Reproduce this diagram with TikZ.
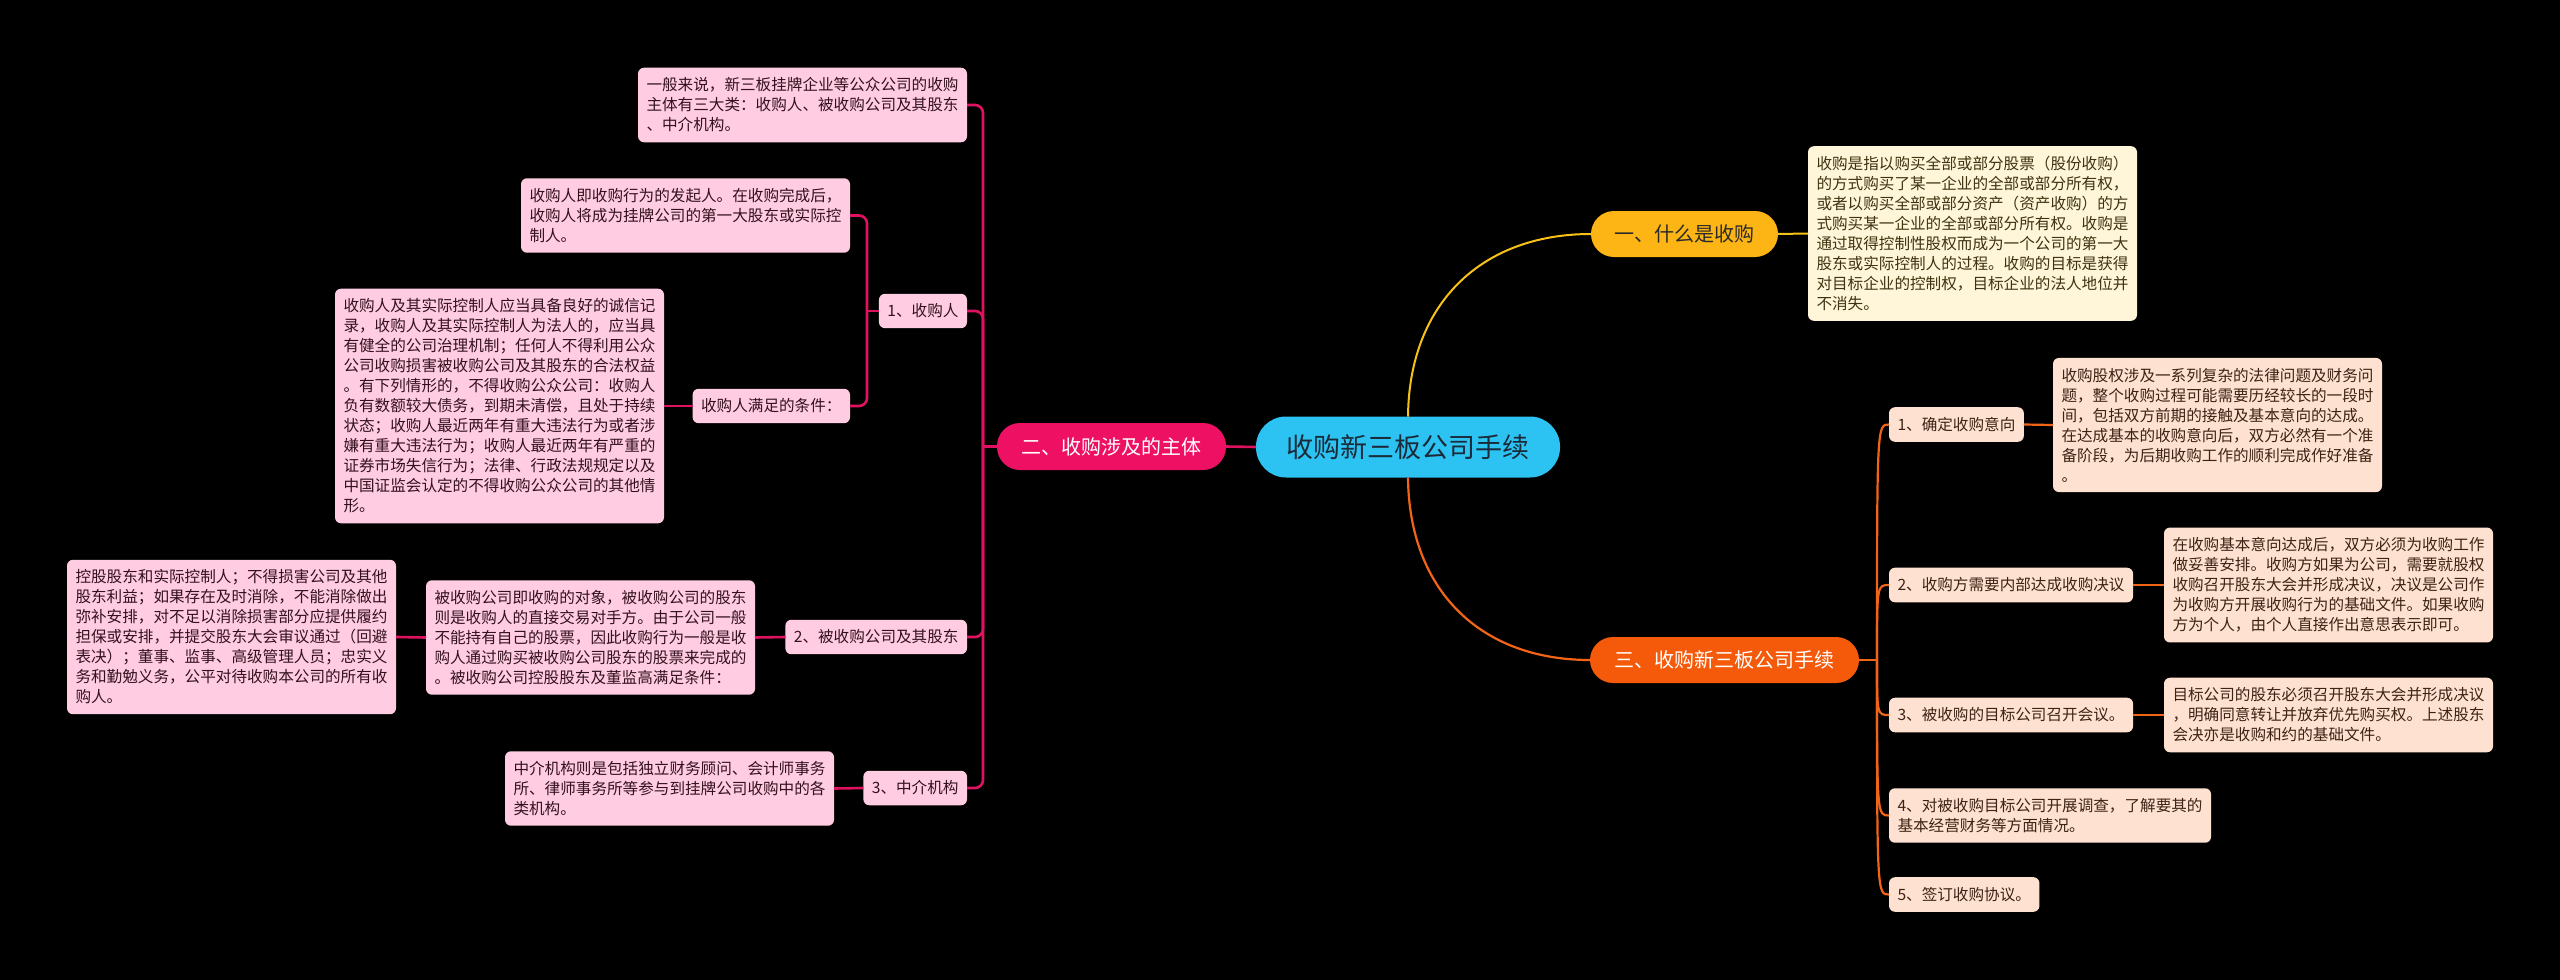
\documentclass[tikz,border=0pt]{standalone}
\usepackage{fontspec}
\setmainfont{Noto Sans CJK SC}
\definecolor{cyanC}{HTML}{2CC3F2}
\definecolor{cenTxt}{HTML}{1B2A38}
\definecolor{yelC}{HTML}{FDB515}
\definecolor{yelL}{HTML}{F6C21A}
\definecolor{yelBox}{HTML}{FFF5D8}
\definecolor{yelTxt}{HTML}{3E3210}
\definecolor{darkTxt}{HTML}{2A2A2A}
\definecolor{pinkC}{HTML}{EE1063}
\definecolor{pinkL}{HTML}{E0125F}
\definecolor{pinkBox}{HTML}{FFCCE1}
\definecolor{pinkTxt}{HTML}{33111E}
\definecolor{oraC}{HTML}{F55A0B}
\definecolor{oraL}{HTML}{F26418}
\definecolor{oraBox}{HTML}{FFE1D1}
\definecolor{oraTxt}{HTML}{3B2415}
\begin{document}
\begin{tikzpicture}[x=1pt,y=-1pt,
  every node/.style={inner sep=0pt, outer sep=0pt},
  pill/.style={font=\fontsize{20}{24}\selectfont, rounded corners=23pt},
  box/.style={font=\fontsize{15.6}{20}\selectfont, rounded corners=6pt, align=left, inner xsep=8.5pt, inner ysep=10pt},
  pbox/.style={box, fill=pinkBox, text=pinkTxt},
  obox/.style={box, fill=oraBox, text=oraTxt},
  ybox/.style={box, fill=yelBox, text=yelTxt},
  pline/.style={draw=pinkL, line width=2.6pt},
  oline/.style={draw=oraL, line width=2.2pt},
  yline/.style={draw=yelL, line width=2pt}]
\fill[black] (0,0) rectangle (2560,980);
\useasboundingbox (0,0) rectangle (2560,980);

% central and main branches
\node[fill=cyanC, text=cenTxt, font=\fontsize{27}{30}\selectfont, minimum width=304pt, minimum height=61pt, rounded corners=30pt] (c) at (1408,447) {收购新三板公司手续};
\node[pill, fill=yelC, text=darkTxt, minimum width=187pt, minimum height=46pt] (n1) at (1684.5,234) {一、什么是收购};
\node[pill, fill=pinkC, text=white, minimum width=229pt, minimum height=47pt] (n2) at (1111.5,446.5) {二、收购涉及的主体};
\node[pill, fill=oraC, text=white, minimum width=269pt, minimum height=46pt] (n3) at (1724.5,660) {三、收购新三板公司手续};

% yellow detail
\node[ybox, anchor=west] (y1) at (1808,233.5) {收购是指以购买全部或部分股票（股份收购）\\的方式购买了某一企业的全部或部分所有权，\\或者以购买全部或部分资产（资产收购）的方\\式购买某一企业的全部或部分所有权。收购是\\通过取得控制性股权而成为一个公司的第一大\\股东或实际控制人的过程。收购的目标是获得\\对目标企业的控制权，目标企业的法人地位并\\不消失。};

% orange branch
\node[obox, anchor=west] (o1) at (1889,424.5) {1、确定收购意向};
\node[obox, anchor=west] (o2) at (1889,585) {2、收购方需要内部达成收购决议};
\node[obox, anchor=west] (o3) at (1889,715) {3、被收购的目标公司召开会议。};
\node[obox, anchor=west] (o4) at (1889,815.5) {4、对被收购目标公司开展调查，了解要其的\\基本经营财务等方面情况。};
\node[obox, anchor=west] (o5) at (1889,894.5) {5、签订收购协议。};
\node[obox, anchor=west] (d1) at (2053,425) {收购股权涉及一系列复杂的法律问题及财务问\\题，整个收购过程可能需要历经较长的一段时\\间，包括双方前期的接触及基本意向的达成。\\在达成基本的收购意向后，双方必然有一个准\\备阶段，为后期收购工作的顺利完成作好准备\\。};
\node[obox, anchor=west] (d2) at (2164,585) {在收购基本意向达成后，双方必须为收购工作\\做妥善安排。收购方如果为公司，需要就股权\\收购召开股东大会并形成决议，决议是公司作\\为收购方开展收购行为的基础文件。如果收购\\方为个人，由个人直接作出意思表示即可。};
\node[obox, anchor=west] (d3) at (2164,715) {目标公司的股东必须召开股东大会并形成决议\\，明确同意转让并放弃优先购买权。上述股东\\会决亦是收购和约的基础文件。};

% pink branch
\node[pbox, anchor=east] (p0) at (967,105) {一般来说，新三板挂牌企业等公众公司的收购\\主体有三大类：收购人、被收购公司及其股东\\、中介机构。};
\node[pbox, anchor=east] (p1) at (967,311) {1、收购人};
\node[pbox, anchor=east] (p1a) at (850,215.5) {收购人即收购行为的发起人。在收购完成后，\\收购人将成为挂牌公司的第一大股东或实际控\\制人。};
\node[pbox, anchor=east] (p1b) at (850,406) {收购人满足的条件：};
\node[pbox, anchor=east] (p1c) at (664,406) {收购人及其实际控制人应当具备良好的诚信记\\录，收购人及其实际控制人为法人的，应当具\\有健全的公司治理机制；任何人不得利用公众\\公司收购损害被收购公司及其股东的合法权益\\。有下列情形的，不得收购公众公司：收购人\\负有数额较大债务，到期未清偿，且处于持续\\状态；收购人最近两年有重大违法行为或者涉\\嫌有重大违法行为；收购人最近两年有严重的\\证券市场失信行为；法律、行政法规规定以及\\中国证监会认定的不得收购公众公司的其他情\\形。};
\node[pbox, anchor=east] (p2) at (967,637) {2、被收购公司及其股东};
\node[pbox, anchor=east] (p2a) at (755,637.5) {被收购公司即收购的对象，被收购公司的股东\\则是收购人的直接交易对手方。由于公司一般\\不能持有自己的股票，因此收购行为一般是收\\购人通过购买被收购公司股东的股票来完成的\\。被收购公司控股股东及董监高满足条件：};
\node[pbox, anchor=east] (p2b) at (396,637) {控股股东和实际控制人；不得损害公司及其他\\股东利益；如果存在及时消除，不能消除做出\\弥补安排，对不足以消除损害部分应提供履约\\担保或安排，并提交股东大会审议通过（回避\\表决）；董事、监事、高级管理人员；忠实义\\务和勤勉义务，公平对待收购本公司的所有收\\购人。};
\node[pbox, anchor=east] (p3) at (967,788) {3、中介机构};
\node[pbox, anchor=east] (p3a) at (834,788.5) {中介机构则是包括独立财务顾问、会计师事务\\所、律师事务所等参与到挂牌公司收购中的各\\类机构。};

% spine points
\coordinate (ps) at (983,446.5);
\coordinate (ps1) at (867,311);
\coordinate (os) at (1877,660);

% connectors from centre
\draw[yline] (c.north) .. controls (1409,305) and (1480,234) .. (n1.west);
\draw[oline] (c.south) .. controls (1409,590) and (1480,660) .. (n3.west);
\draw[pline] (c.west) -- (n2.east);
\draw[yline] (n1.east) -- (y1.west);

% orange children
\draw[oline] (n3.east) -- (os);
\foreach \n in {o1,o2,o3,o4,o5}{
  \draw[oline] (os) .. controls (os |- \n.west) and (os |- \n.west) .. (\n.west);
}
\draw[oline] (o1.east) -- (d1.west);
\draw[oline] (o2.east) -- (d2.west);
\draw[oline] (o3.east) -- (d3.west);

% pink children
\draw[pline] (n2.west) -- (ps);
\foreach \n in {p0,p1,p2,p3}{
  \draw[pline, rounded corners=8pt] (ps) |- (\n.east);
}
\draw[pline] (p1.west) -- (ps1);
\foreach \n in {p1a,p1b}{
  \draw[pline, rounded corners=8pt] (ps1) |- (\n.east);
}
\draw[pline] (p1c.east) -- (p1b.west);
\draw[pline] (p2a.east) -- (p2.west);
\draw[pline] (p2b.east) -- (p2a.west);
\draw[pline] (p3a.east) -- (p3.west);
\end{tikzpicture}
\end{document}
